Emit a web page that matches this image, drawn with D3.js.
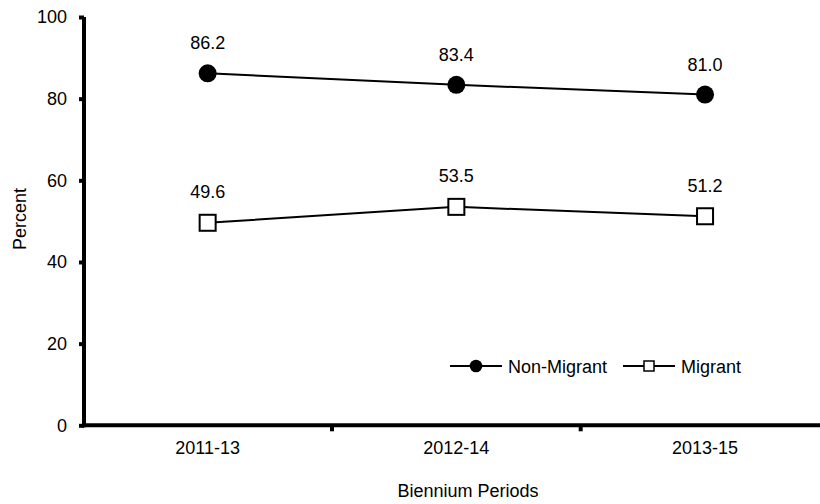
<!DOCTYPE html>
<html>
<head>
<meta charset="utf-8">
<script src="https://cdn.jsdelivr.net/npm/d3@7/dist/d3.min.js"></script>
<style>
  html, body { margin: 0; padding: 0; background: #fff; }
  svg { display: block; font-family: "Liberation Sans", Arial, sans-serif; }
</style>
</head>
<body>
<svg id="chart" width="820" height="504"></svg>
<script>
const categories = ["2011-13", "2012-14", "2013-15"];
const nonMigrant = [86.2, 83.4, 81.0];
const migrant = [49.6, 53.5, 51.2];
const yTicks = [0, 20, 40, 60, 80, 100];
const seriesNames = ["Non-Migrant", "Migrant"];

const svg = d3.select("#chart");
const fontSize = 18;

const x = d3.scaleBand().domain(categories).range([83.3, 829.4]);
const y = d3.scaleLinear().domain([0, 100]).range([425.3, 17]);

// Y axis
const yAxis = svg.append("g").attr("transform", "translate(84,0)")
  .call(d3.axisLeft(y).tickValues(yTicks).tickSize(5).tickPadding(12).tickFormat(d3.format("d")));
yAxis.select(".domain").attr("stroke", "#000").attr("stroke-width", 4)
  .attr("d", `M0,${y(100)}V${y(0) + 2}`);
yAxis.selectAll(".tick line").attr("stroke", "#000").attr("stroke-width", 4);
yAxis.selectAll(".tick text").attr("font-size", fontSize).attr("fill", "#000")
  .attr("font-family", "Liberation Sans, Arial, sans-serif");

// X axis
const xAxis = svg.append("g").attr("transform", "translate(0,425.3)")
  .call(d3.axisBottom(x).tickSize(0).tickPadding(16));
xAxis.select(".domain").attr("stroke", "#000").attr("stroke-width", 4)
  .attr("d", `M82,0H829.4`);
xAxis.selectAll(".tick text").attr("font-size", fontSize).attr("fill", "#000")
  .attr("font-family", "Liberation Sans, Arial, sans-serif");
// band boundary ticks
xAxis.selectAll(".bound").data(categories.slice(1)).enter().append("line")
  .attr("class", "bound")
  .attr("x1", d => x(d)).attr("x2", d => x(d))
  .attr("y1", 0).attr("y2", 6)
  .attr("stroke", "#000").attr("stroke-width", 4);

// Axis titles
svg.append("text").attr("transform", "translate(26,219) rotate(-90)")
  .attr("text-anchor", "middle").attr("font-size", fontSize).text("Percent");
svg.append("text").attr("x", 468).attr("y", 497)
  .attr("text-anchor", "middle").attr("font-size", fontSize).text("Biennium Periods");

const cx = d => x(d) + x.bandwidth() / 2;
const line = d3.line().x(d => cx(d.c)).y(d => y(d.v));

const nmData = categories.map((c, i) => ({ c, v: nonMigrant[i] }));
const mData = categories.map((c, i) => ({ c, v: migrant[i] }));

// Lines
svg.append("path").datum(nmData).attr("d", line)
  .attr("fill", "none").attr("stroke", "#000").attr("stroke-width", 2);
svg.append("path").datum(mData).attr("d", line)
  .attr("fill", "none").attr("stroke", "#000").attr("stroke-width", 2);

// Markers
svg.selectAll(".nm").data(nmData).enter().append("circle")
  .attr("cx", d => cx(d.c)).attr("cy", d => y(d.v)).attr("r", 9)
  .attr("fill", "#000");
const sq = 16;
svg.selectAll(".m").data(mData).enter().append("rect")
  .attr("x", d => cx(d.c) - sq / 2).attr("y", d => y(d.v) - sq / 2)
  .attr("width", sq).attr("height", sq)
  .attr("fill", "#fff").attr("stroke", "#000").attr("stroke-width", 2);

// Labels
svg.selectAll(".nml").data(nmData).enter().append("text")
  .attr("x", d => cx(d.c)).attr("y", d => y(d.v) - 24)
  .attr("text-anchor", "middle").attr("font-size", fontSize)
  .text(d => d.v.toFixed(1));
svg.selectAll(".ml").data(mData).enter().append("text")
  .attr("x", d => cx(d.c)).attr("y", d => y(d.v) - 24.5)
  .attr("text-anchor", "middle").attr("font-size", fontSize)
  .text(d => d.v.toFixed(1));

// Legend
const ly = 366;
const lg = svg.append("g");
lg.append("line").attr("x1", 450).attr("x2", 502).attr("y1", ly).attr("y2", ly)
  .attr("stroke", "#000").attr("stroke-width", 2);
lg.append("circle").attr("cx", 476).attr("cy", ly).attr("r", 6.3).attr("fill", "#000");
lg.append("text").attr("x", 508).attr("y", ly + 6.5).attr("font-size", fontSize).text(seriesNames[0]);
lg.append("line").attr("x1", 623).attr("x2", 675).attr("y1", ly).attr("y2", ly)
  .attr("stroke", "#000").attr("stroke-width", 2);
lg.append("rect").attr("x", 649 - 5).attr("y", ly - 5).attr("width", 10).attr("height", 10)
  .attr("fill", "#fff").attr("stroke", "#000").attr("stroke-width", 1.5);
lg.append("text").attr("x", 681).attr("y", ly + 6.5).attr("font-size", fontSize).text(seriesNames[1]);
</script>
</body>
</html>
